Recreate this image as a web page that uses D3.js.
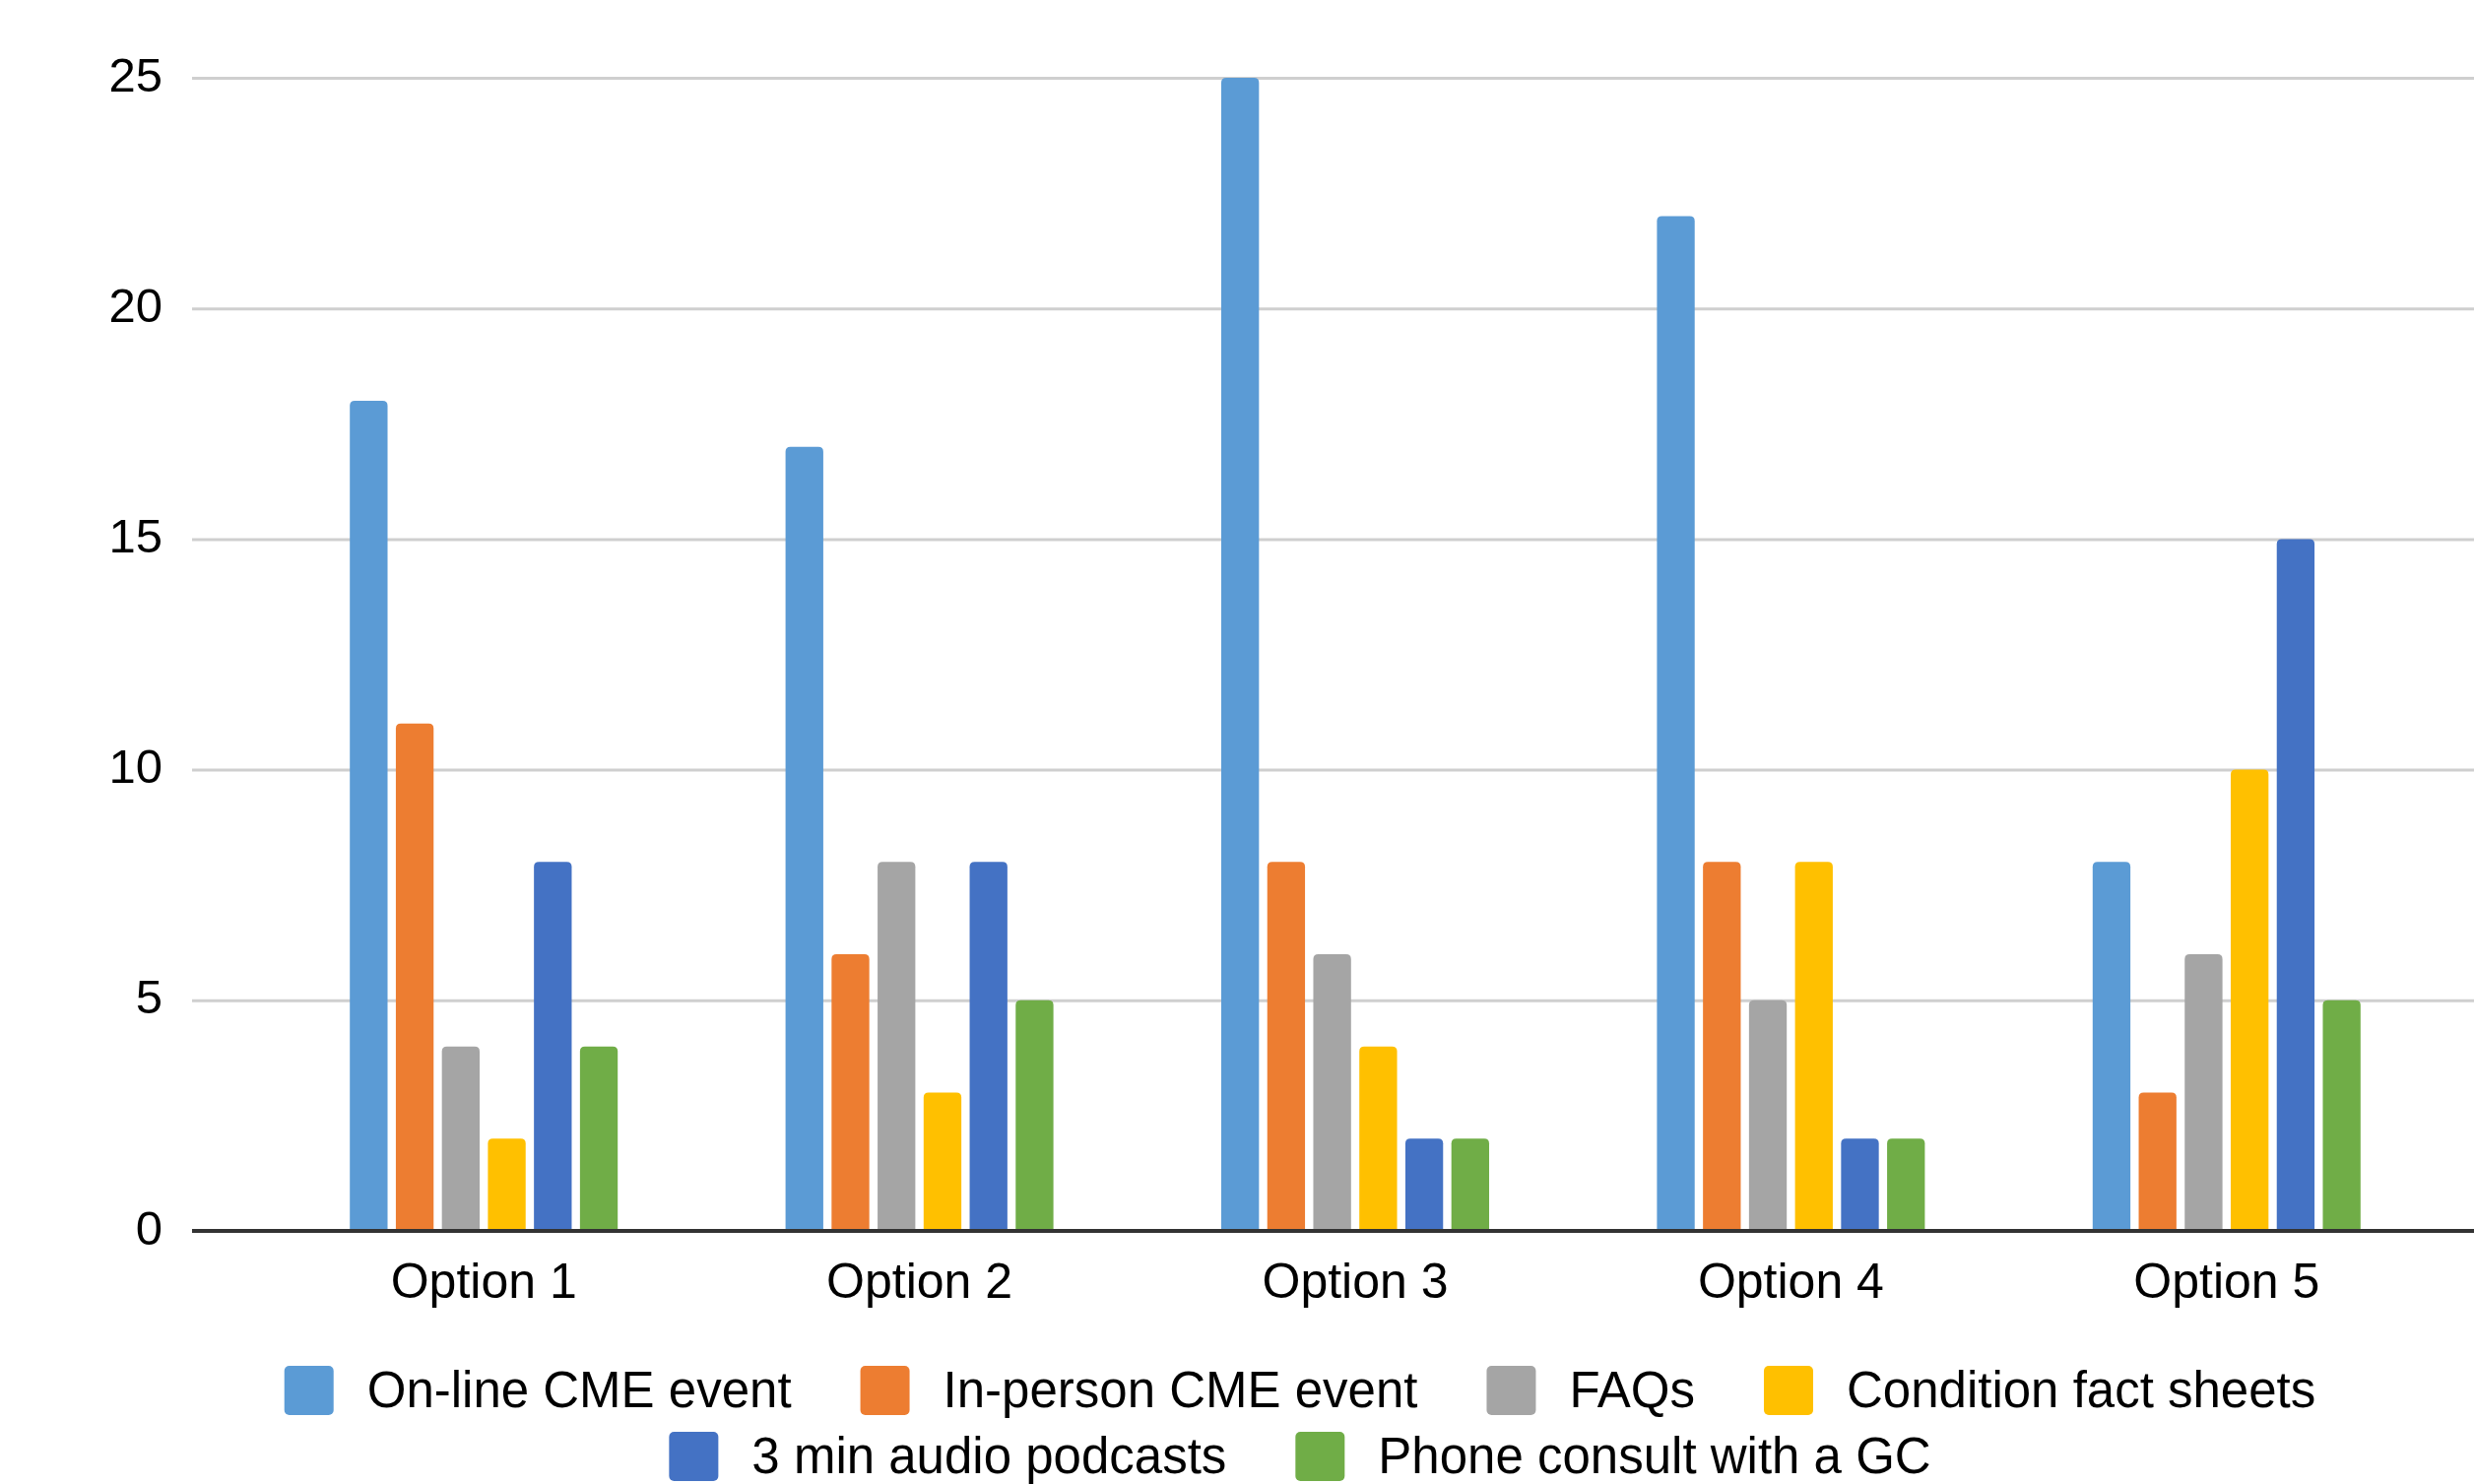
<!DOCTYPE html>
<html>
<head>
<meta charset="utf-8">
<script src="https://cdn.jsdelivr.net/npm/d3@7"></script>
<style>
  html, body { margin: 0; padding: 0; background: #fff; }
  svg { display: block; font-family: "Liberation Sans", Arial, Helvetica, sans-serif; }
</style>
</head>
<body>
<svg id="chart" width="2512" height="1507"></svg>
<script>
// Categories and series
const categories = ["Option 1", "Option 2", "Option 3", "Option 4", "Option 5"];
const seriesNames = [
  "On-line CME event",
  "In-person CME event",
  "FAQs",
  "Condition fact sheets",
  "3 min audio podcasts",
  "Phone consult with a GC"
];
const seriesColors = ["#5B9BD5", "#ED7D31", "#A5A5A5", "#FFC000", "#4472C4", "#70AD47"];

// Values per series, one entry per category
const onlineCME   = [18, 17, 25, 22, 8];
const inPersonCME = [11, 6, 8, 8, 3];
const faqs        = [4, 8, 6, 5, 6];
const factSheets  = [2, 3, 4, 8, 10];
const podcasts    = [8, 8, 2, 2, 15];
const phoneGC     = [4, 5, 2, 2, 5];
const seriesValues = [onlineCME, inPersonCME, faqs, factSheets, podcasts, phoneGC];

const yTicks = [0, 5, 10, 15, 20, 25];

// Layout
const W = 2512, H = 1507;
const gridLeft = 195, gridRight = 2512;
const bandLeft = 270, bandRight = 2482;
const yTop = 79, yBottom = 1250;
const tickFont = 49;
const catFont = 50;
const legendFont = 51;

const svg = d3.select("#chart");

const x0 = d3.scaleBand().domain(categories).range([bandLeft, bandRight]).paddingInner(0).paddingOuter(0);
const groupWidth = 272;
const x1 = d3.scaleBand().domain(d3.range(seriesNames.length)).range([-groupWidth / 2, groupWidth / 2]).paddingInner(0.18);
const y = d3.scaleLinear().domain([0, 25]).range([yBottom, yTop]);

// Gridlines + y labels via axisLeft
const yAxis = d3.axisLeft(y).tickValues(yTicks).tickSize(-(gridRight - gridLeft)).tickPadding(30).tickFormat(d3.format("d"));
const gy = svg.append("g").attr("transform", `translate(${gridLeft},0)`).call(yAxis);
gy.select(".domain").remove();
gy.selectAll(".tick line").attr("stroke", "#cfcfcf").attr("stroke-width", 3)
  .filter(d => d === 0).remove();
gy.selectAll(".tick text")
  .attr("fill", "#000")
  .attr("font-size", tickFont)
  .attr("font-family", "Liberation Sans, Arial, Helvetica, sans-serif")
  .attr("dy", null)
  .attr("y", 13);

// Rounded-top bar path
function barPath(xl, w, yt, yb, r) {
  r = Math.min(r, w / 2, Math.max(0, yb - yt));
  return `M${xl},${yb}V${yt + r}Q${xl},${yt} ${xl + r},${yt}H${xl + w - r}Q${xl + w},${yt} ${xl + w},${yt + r}V${yb}Z`;
}

const groups = svg.append("g").selectAll("g")
  .data(categories)
  .join("g")
  .attr("transform", c => `translate(${x0(c) + x0.bandwidth() / 2},0)`);

groups.selectAll("path")
  .data((c, i) => seriesValues.map((vals, s) => ({ s, v: vals[i] })))
  .join("path")
  .attr("fill", d => seriesColors[d.s])
  .attr("d", d => barPath(x1(d.s), x1.bandwidth(), y(d.v), y(0), 5));

// Baseline
svg.append("line")
  .attr("x1", gridLeft).attr("x2", gridRight)
  .attr("y1", y(0)).attr("y2", y(0))
  .attr("stroke", "#333").attr("stroke-width", 4);

// Category labels via axisBottom
const xAxis = d3.axisBottom(x0).tickSize(0).tickPadding(0);
const gx = svg.append("g").attr("transform", `translate(0,${y(0)})`).call(xAxis);
gx.select(".domain").remove();
gx.selectAll(".tick text")
  .attr("fill", "#000")
  .attr("font-size", catFont)
  .attr("font-family", "Liberation Sans, Arial, Helvetica, sans-serif")
  .attr("dy", null)
  .attr("y", 68);

// Legend: two centered rows
const legendRows = [[0, 1, 2, 3], [4, 5]];
const legendCenterX = 1320;
const rowCenters = [1412, 1479];
const sw = 50, swGap = 34, itemGap = 70;

legendRows.forEach((row, ri) => {
  const g = svg.append("g");
  let cx = 0;
  row.forEach((s, k) => {
    const item = g.append("g").attr("transform", `translate(${cx},0)`);
    item.append("rect")
      .attr("x", 0).attr("y", rowCenters[ri] - sw / 2)
      .attr("width", sw).attr("height", sw)
      .attr("rx", 5).attr("fill", seriesColors[s]);
    const t = item.append("text")
      .attr("x", sw + swGap).attr("y", rowCenters[ri] + 17)
      .attr("font-size", legendFont).attr("fill", "#000")
      .text(seriesNames[s]);
    const tw = t.node().getComputedTextLength();
    cx += sw + swGap + tw + (k < row.length - 1 ? itemGap : 0);
  });
  g.attr("transform", `translate(${legendCenterX - cx / 2},0)`);
});
</script>
</body>
</html>
